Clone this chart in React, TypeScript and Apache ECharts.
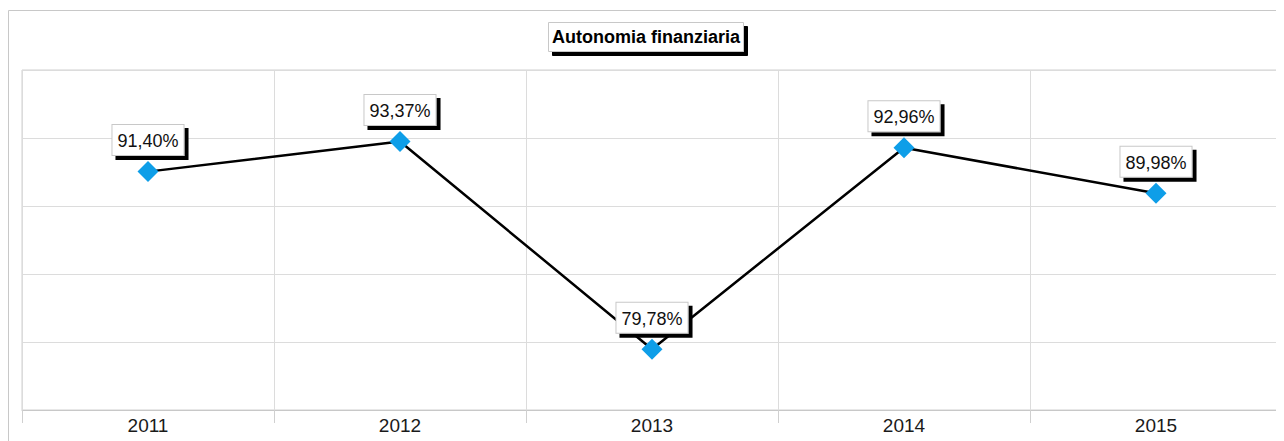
import React, { useEffect, useRef } from "react";
import * as echarts from "echarts";

const title = "Autonomia finanziaria";
const categories = ["2011", "2012", "2013", "2014", "2015"];
const values = [91.4, 93.37, 79.78, 92.96, 89.98];

const fmt = (v: number) => v.toFixed(2).replace(".", ",") + "%";

export default function App() {
  const ref = useRef<HTMLDivElement>(null);
  useEffect(() => {
    if (!ref.current) return;
    const chart = echarts.init(ref.current, undefined, { renderer: "svg" });
    chart.setOption({
      animation: false,
      backgroundColor: "#ffffff",
      textStyle: { fontFamily: "Liberation Sans, Arial, sans-serif" },
      graphic: [
        {
          type: "rect",
          shape: { x: 0.5, y: 2.5, width: 1300, height: 460 },
          style: { fill: "none", stroke: "#c8c8c8", lineWidth: 1 },
          silent: true,
          z: -10,
        },
      ],
      title: {
        text: title,
        left: "center",
        top: 14,
        padding: [6, 4, 6, 4],
        backgroundColor: "#ffffff",
        borderColor: "#c8c8c8",
        borderWidth: 1,
        shadowColor: "#000000",
        shadowOffsetX: 4,
        shadowOffsetY: 4,
        shadowBlur: 0,
        textStyle: {
          fontSize: 18,
          fontWeight: "bold",
          color: "#000000",
          fontFamily: "Liberation Sans, Arial, sans-serif",
        },
      },
      grid: {
        left: 14,
        right: 2,
        top: 62,
        bottom: 31,
        show: true,
        borderColor: "#d0d0d0",
        borderWidth: 1,
      },
      xAxis: {
        type: "category",
        data: categories,
        boundaryGap: true,
        axisLine: { show: true, lineStyle: { color: "#c8c8c8", width: 1 } },
        axisTick: { show: true, length: 13, lineStyle: { color: "#d0d0d0" } },
        axisLabel: {
          color: "#1a1a1a",
          fontSize: 19,
          margin: 6,
          fontFamily: "Liberation Sans, Arial, sans-serif",
        },
        splitLine: { show: true, lineStyle: { color: "#dcdcdc", width: 1 } },
      },
      yAxis: {
        type: "value",
        min: 75.8,
        max: 98.05,
        interval: 4.45,
        axisLine: { show: false },
        axisTick: { show: false },
        axisLabel: { show: false },
        splitLine: { show: true, lineStyle: { color: "#dcdcdc", width: 1 } },
      },
      series: [
        {
          type: "line",
          data: values,
          symbol: "diamond",
          symbolSize: 21,
          lineStyle: { color: "#000000", width: 2.5 },
          itemStyle: { color: "#0e9ee8" },
          label: {
            show: true,
            position: "top",
            distance: 6,
            formatter: (p: any) => fmt(p.value),
            fontSize: 18,
            color: "#111111",
            fontFamily: "Liberation Sans, Arial, sans-serif",
            backgroundColor: "#ffffff",
            borderColor: "#c8c8c8",
            borderWidth: 1,
            padding: [7, 5, 5, 5],
            shadowColor: "#000000",
            shadowOffsetX: 4,
            shadowOffsetY: 4,
            shadowBlur: 0,
          },
        },
      ],
    });
    return () => chart.dispose();
  }, []);
  return <div ref={ref} style={{ width: 1276, height: 433 }} />;
}
